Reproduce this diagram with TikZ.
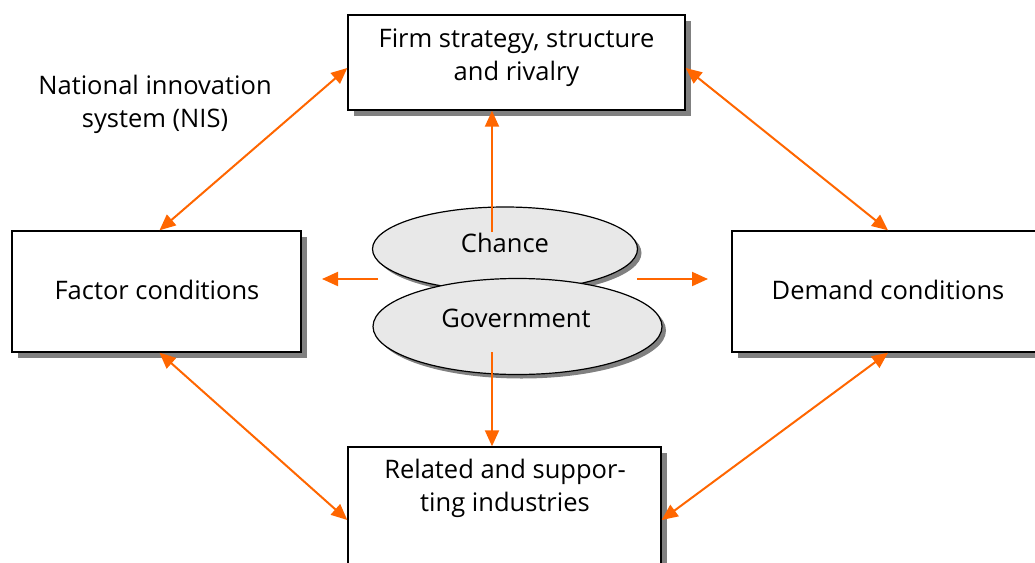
\documentclass[tikz,border=0pt]{standalone}
\usepackage{fontspec}
\setmainfont{Open Sans}
\usetikzlibrary{arrows.meta,shapes.geometric,shadows}
\definecolor{arr}{HTML}{FF6600}
\definecolor{shd}{HTML}{808080}
\definecolor{ellfill}{HTML}{E8E8E8}
\begin{document}
\begin{tikzpicture}[x=1pt,y=-1pt,
  every node/.style={font=\fontsize{25.5}{33}\selectfont},
  box/.style={draw=black,line width=1.4pt,fill=white,inner sep=0pt,
     drop shadow={shadow xshift=6pt,shadow yshift=-6pt,fill=shd,opacity=1}},
  ell/.style={ellipse,draw=black,line width=1.2pt,fill=ellfill,inner sep=0pt,
     drop shadow={shadow xshift=4pt,shadow yshift=-4pt,fill=shd,opacity=1}},
  txt/.style={align=center,inner sep=0pt},
  conn/.style={draw=arr,line width=2pt},
  tip/.style={-{Triangle[length=16pt,width=14pt]}},
  tips/.style={{Triangle[length=16pt,width=14pt]}-{Triangle[length=16pt,width=14pt]}}
]
\useasboundingbox (0,0) rectangle (1035,562);
\clip (0,0) rectangle (1035,562);
\node[box,minimum width=337pt,minimum height=95pt] (firm) at (516.5,62.5) {};
\node[txt] (firmtxt) at (516.5,57.5) {Firm strategy, structure\\and rivalry};
\node[box,minimum width=289pt,minimum height=121pt] (fac) at (156.5,291.5) {};
\node[txt] (factxt) at (157,290) {Factor conditions};
\node[box,minimum width=312pt,minimum height=121pt] (dem) at (888,291.5) {};
\node[txt] (demtxt) at (888,290) {Demand conditions};
\node[box,minimum width=313pt,minimum height=146pt] (rel) at (504.5,520) {};
\node[txt] (reltxt) at (505,488.5) {Related and suppor-\\ting industries};
\node[txt] (nis) at (155,104) {National innovation\\system (NIS)};
\node[ell,minimum width=265pt,minimum height=84pt] (chance) at (505,249) {};
\node[txt] (chtxt) at (505,243) {Chance};
\node[ell,minimum width=289pt,minimum height=96pt] (gov) at (517.5,326.5) {};
\node[txt] (govtxt) at (516,318) {Government};
% connectors
\draw[conn,tips] ([yshift=-5.5pt]firm.west) -- ([xshift=3pt]fac.north);
\draw[conn,tips] ([yshift=-5.5pt]firm.east) -- (dem.north);
\draw[conn,tips] ([xshift=3pt]fac.south) -- (rel.west);
\draw[conn,tips] (dem.south) -- (rel.east);
\coordinate (up) at (492,232);
\draw[conn,tip] (up) -- (up |- firm.south);
\coordinate (dn) at (492,352);
\draw[conn,tip] (dn) -- (dn |- rel.north);
\coordinate (lf) at (378,279);
\coordinate (lfend) at (322,279);
\draw[conn,tip] (lf) -- (lfend);
\coordinate (rt) at (637,279);
\coordinate (rtend) at (708,279);
\draw[conn,tip] (rt) -- (rtend);
\end{tikzpicture}
\end{document}
